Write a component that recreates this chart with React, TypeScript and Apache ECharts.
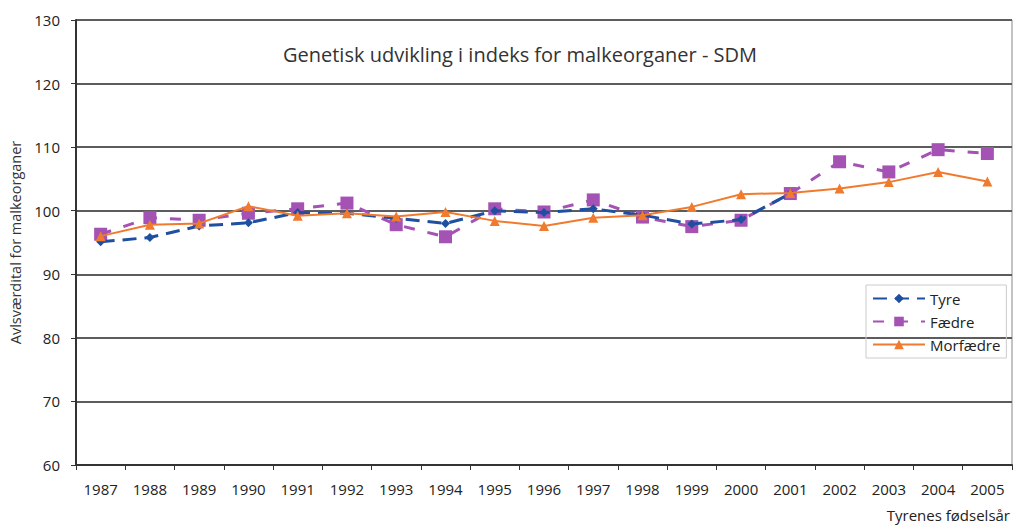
import React, { useEffect, useRef } from "react";
import * as echarts from "echarts";

const years = ["1987","1988","1989","1990","1991","1992","1993","1994","1995","1996","1997","1998","1999","2000","2001","2002","2003","2004","2005"];
const tyre: (number | null)[] = [95.1, 95.8, 97.6, 98.1, 99.7, 99.6, 98.8, 98.0, 100.0, 99.7, 100.3, 99.3, 97.9, 98.6, 102.7, null, null, null, null];
const faedre = [96.3, 98.9, 98.5, 99.6, 100.3, 101.2, 97.8, 95.9, 100.3, 99.8, 101.7, 99.0, 97.5, 98.5, 102.7, 107.7, 106.1, 109.6, 109.0];
const morfaedre = [96.0, 97.8, 98.0, 100.7, 99.2, 99.6, 99.1, 99.8, 98.4, 97.6, 98.9, 99.3, 100.6, 102.6, 102.8, 103.5, 104.5, 106.1, 104.6];

const FONT = "'Open Sans', sans-serif";

export default function App() {
  const ref = useRef<HTMLDivElement>(null);
  useEffect(() => {
    if (!ref.current) return;
    const chart = echarts.init(ref.current, null, { renderer: "svg" });
    chart.setOption({
      animation: false,
      backgroundColor: "#ffffff",
      textStyle: { fontFamily: FONT },
      title: {
        text: "Genetisk udvikling i indeks for malkeorganer - SDM",
        left: 515,
        textAlign: "center",
        top: 39,
        textStyle: { fontFamily: FONT, fontSize: 20, fontWeight: "normal", color: "#333" },
      },
      grid: { left: 76, right: 2, top: 20, bottom: 62, show: true, borderColor: "#888", borderWidth: 1 },
      legend: {
        orient: "vertical",
        left: 866,
        top: 285,
        itemWidth: 52,
        itemHeight: 12,
        itemGap: 8,
        padding: [6, 6, 6, 6],
        borderColor: "#ccc",
        borderWidth: 1,
        textStyle: { fontFamily: FONT, fontSize: 15, color: "#222" },
        data: ["Tyre", "Fædre", "Morfædre"],
      },
      xAxis: {
        type: "category",
        data: years,
        boundaryGap: true,
        axisLine: { lineStyle: { color: "#333", width: 2 } },
        axisTick: { show: true, interval: 0, length: 5, lineStyle: { color: "#333" } },
        axisLabel: { interval: 0, fontFamily: FONT, fontSize: 15, color: "#222", margin: 16 },
      },
      yAxis: {
        type: "value",
        min: 60,
        max: 130,
        interval: 10,
        name: "Avlsværdital for malkeorganer",
        nameLocation: "middle",
        nameGap: 52,
        nameTextStyle: { fontFamily: FONT, fontSize: 14.5, color: "#333" },
        axisLine: { show: true, lineStyle: { color: "#333", width: 2 } },
        axisTick: { show: true, length: 5, lineStyle: { color: "#333" } },
        axisLabel: { fontFamily: FONT, fontSize: 15, color: "#222", margin: 16 },
        splitLine: { show: true, lineStyle: { color: "#5c5c5c", width: 2 } },
      },
      graphic: [
        {
          type: "text",
          right: 4,
          top: 507,
          style: { text: "Tyrenes fødselsår", fontFamily: FONT, fontSize: 15, fill: "#222" },
        },
      ],
      series: [
        {
          name: "Tyre",
          type: "line",
          data: tyre,
          symbol: "diamond",
          symbolSize: 9,
          itemStyle: { color: "#1f4fa0" },
          lineStyle: { color: "#1f4fa0", width: 3, type: [14, 8] },
          z: 3,
        },
        {
          name: "Fædre",
          type: "line",
          data: faedre,
          symbol: "rect",
          symbolSize: 13,
          itemStyle: { color: "#a452b4" },
          lineStyle: { color: "#a452b4", width: 3, type: [11, 13] },
          z: 2,
        },
        {
          name: "Morfædre",
          type: "line",
          data: morfaedre,
          symbol: "triangle",
          symbolSize: 10,
          itemStyle: { color: "#f07a2e" },
          lineStyle: { color: "#f07a2e", width: 2 },
          z: 4,
        },
      ],
    });
    return () => chart.dispose();
  }, []);
  return <div ref={ref} style={{ width: 1014, height: 527, position: "absolute", left: 0, top: 0 }} />;
}
